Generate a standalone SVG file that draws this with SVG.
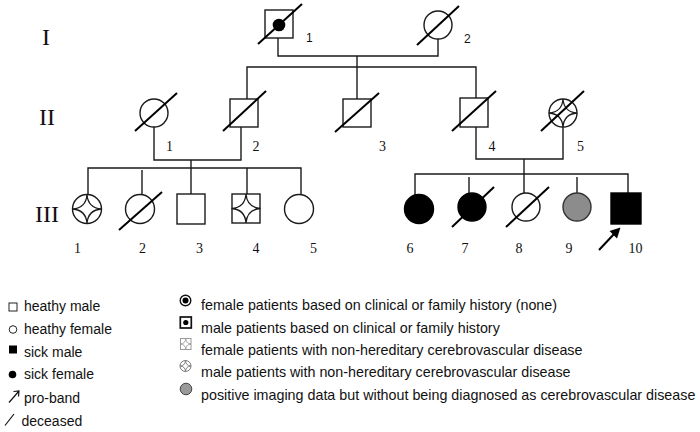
<svg xmlns="http://www.w3.org/2000/svg" xmlns:xlink="http://www.w3.org/1999/xlink" width="700" height="432" viewBox="0 0 700 432">
<style>
  .ln{stroke:#1a1a1a;stroke-width:1.4;fill:none}
  .sym{stroke:#1a1a1a;stroke-width:1.4;fill:#fff}
  .fill{fill:#000;stroke:#000;stroke-width:1.4}
  .gray{fill:#8c8c8c;stroke:#333;stroke-width:1.4}
  .slash{stroke:#000;stroke-width:2;fill:none}
  .star{stroke:#1a1a1a;stroke-width:1.3;fill:none}
  .rom{font-family:"Liberation Serif",serif;font-size:24px;fill:#111;text-anchor:middle}
  .num{font-family:"Liberation Serif",serif;font-size:14px;fill:#111;text-anchor:middle}
  .numS{font-family:"Liberation Sans",Arial,sans-serif;font-size:12px;fill:#111}
  .leg{font-family:"Liberation Sans",Arial,sans-serif;font-size:14px;fill:#111}
  .legR{font-family:"Liberation Sans",Arial,sans-serif;font-size:14.3px;fill:#111}
</style>
<defs>
  <path id="star" d="M0,-14.5 Q1,-1 14.5,0 Q1,1 0,14.5 Q-1,1 -14.5,0 Q-1,-1 0,-14.5Z"/>
  <path id="starS" d="M0,-5.3 Q0.4,-0.4 5.3,0 Q0.4,0.4 0,5.3 Q-0.4,0.4 -5.3,0 Q-0.4,-0.4 0,-5.3Z"/>
</defs>
<rect width="700" height="432" fill="#fff"/>

<g id="generation-labels">
  <text class="rom" x="46" y="45">I</text>
  <text class="rom" x="47" y="125">II</text>
  <text class="rom" x="47" y="222">III</text>
</g>

<g id="connectors">
  <path class="ln" d="M278,38 V56 H438 V39"/>
  <path class="ln" d="M357,56 V67"/>
  <path class="ln" d="M247,99 V67 H476 V98"/>
  <path class="ln" d="M357,67 V99"/>
  <path class="ln" d="M154,127 V160 H241 V127"/>
  <path class="ln" d="M191,160 V168"/>
  <path class="ln" d="M88,194 V168 H301 V195"/>
  <path class="ln" d="M142,170 V195"/>
  <path class="ln" d="M191,168 V194"/>
  <path class="ln" d="M247,168 V194"/>
  <path class="ln" d="M476,127 V159 H563 V127"/>
  <path class="ln" d="M524,159 V193"/>
  <path class="ln" d="M415,195 V174 H628 V193"/>
  <path class="ln" d="M469,177 V193"/>
  <path class="ln" d="M577,177 V193"/>
</g>

<g id="I-1">
  <rect class="sym" x="265" y="10" width="28" height="28"/>
  <circle cx="279" cy="25" r="6.3" fill="#000"/>
  <line class="slash" x1="258" y1="44" x2="302" y2="4"/>
  <text class="numS" x="306" y="42">1</text>
</g>
<g id="I-2">
  <circle class="sym" cx="438" cy="25" r="14"/>
  <line class="slash" x1="417" y1="45" x2="459" y2="6"/>
  <text class="numS" x="464" y="43">2</text>
</g>

<g id="II-1">
  <circle class="sym" cx="154" cy="113" r="14"/>
  <line class="slash" x1="135" y1="131" x2="177" y2="93"/>
  <text class="num" x="169.5" y="151">1</text>
</g>
<g id="II-2">
  <rect class="sym" x="230" y="99" width="28" height="28"/>
  <line class="slash" x1="223" y1="131" x2="266" y2="91"/>
  <text class="num" x="256" y="151">2</text>
</g>
<g id="II-3">
  <rect class="sym" x="343" y="99" width="28" height="28"/>
  <line class="slash" x1="335" y1="132" x2="379" y2="93"/>
  <text class="num" x="382.5" y="151">3</text>
</g>
<g id="II-4">
  <rect class="sym" x="460" y="98" width="28" height="29"/>
  <line class="slash" x1="452" y1="131" x2="496" y2="91"/>
  <text class="num" x="492" y="151">4</text>
</g>
<g id="II-5">
  <circle class="sym" cx="563" cy="113" r="14"/>
  <use href="#star" xlink:href="#star" class="star" transform="translate(563,113) scale(0.97)"/>
  <line class="slash" x1="541" y1="131" x2="584" y2="91"/>
  <text class="num" x="580.5" y="151">5</text>
</g>

<g id="III-1">
  <circle class="sym" cx="87" cy="209" r="14.5"/>
  <use href="#star" xlink:href="#star" class="star" transform="translate(87,209)"/>
  <text class="num" x="77.5" y="252.5">1</text>
</g>
<g id="III-2">
  <circle class="sym" cx="140" cy="209" r="14.5"/>
  <line class="slash" x1="119" y1="230" x2="162" y2="192"/>
  <text class="num" x="142.5" y="252.5">2</text>
</g>
<g id="III-3">
  <rect class="sym" x="177" y="194" width="28" height="30"/>
  <text class="num" x="199.5" y="252.5">3</text>
</g>
<g id="III-4">
  <rect class="sym" x="232" y="194" width="28" height="29"/>
  <use href="#star" xlink:href="#star" class="star" transform="translate(246,208.5)"/>
  <text class="num" x="256" y="252.5">4</text>
</g>
<g id="III-5">
  <circle class="sym" cx="299" cy="209" r="14.5"/>
  <text class="num" x="313.5" y="252.5">5</text>
</g>

<g id="III-6">
  <circle class="fill" cx="419" cy="209" r="14.5"/>
  <text class="num" x="410" y="252.5">6</text>
</g>
<g id="III-7">
  <circle class="fill" cx="472" cy="207" r="14"/>
  <line class="slash" x1="452" y1="227" x2="494" y2="187"/>
  <text class="num" x="465" y="252.5">7</text>
</g>
<g id="III-8">
  <circle class="sym" cx="526" cy="207" r="14"/>
  <line class="slash" x1="506" y1="227" x2="549" y2="187"/>
  <text class="num" x="519" y="252.5">8</text>
</g>
<g id="III-9">
  <circle class="gray" cx="577" cy="207" r="14"/>
  <text class="num" x="569" y="252.5">9</text>
</g>
<g id="III-10">
  <rect class="fill" x="611" y="193" width="30" height="31"/>
  <line x1="599" y1="250" x2="614" y2="234" stroke="#000" stroke-width="2"/>
  <polygon points="620.5,227.5 609.5,231 617,238.5" fill="#000"/>
  <text class="num" x="635.5" y="252.5">10</text>
</g>

<g id="legend-left">
  <rect x="9" y="303" width="8" height="8" fill="#fff" stroke="#222" stroke-width="1"/>
  <text class="leg" x="24" y="311">heathy male</text>
  <circle cx="13" cy="329.5" r="3.8" fill="#fff" stroke="#222" stroke-width="1"/>
  <text class="leg" x="24" y="334">heathy female</text>
  <rect x="9" y="345.5" width="8" height="8" fill="#000"/>
  <text class="leg" x="24" y="357">sick male</text>
  <circle cx="12.5" cy="374.5" r="3.8" fill="#000"/>
  <text class="leg" x="24" y="379">sick female</text>
  <path d="M9,402.5 L19,391 M13.5,391.5 L19,391 L18.5,396.5" fill="none" stroke="#111" stroke-width="1.2"/>
  <text class="leg" x="24" y="403">pro-band</text>
  <line x1="5" y1="425.5" x2="14" y2="414" stroke="#111" stroke-width="1.2"/>
  <text class="leg" x="21.5" y="425.5">deceased</text>
</g>

<g id="legend-right">
  <circle cx="185.5" cy="300.5" r="5.3" fill="#fff" stroke="#111" stroke-width="1.4"/>
  <circle cx="185.5" cy="300.5" r="3" fill="#000"/>
  <text class="legR" x="201" y="310">female patients based on clinical or family history (none)</text>
  <rect x="180.3" y="317" width="11" height="11" fill="#fff" stroke="#111" stroke-width="1.7"/>
  <circle cx="185.8" cy="322.5" r="2.6" fill="#000"/>
  <text class="legR" x="201" y="333">male patients based on clinical or family history</text>
  <rect x="180.5" y="338.5" width="10.5" height="11" fill="#fff" stroke="#999" stroke-width="1"/>
  <use href="#starS" xlink:href="#starS" transform="translate(185.75,344)" fill="none" stroke="#999" stroke-width="0.9"/>
  <text class="legR" x="201" y="355">female patients with non-hereditary cerebrovascular disease</text>
  <circle cx="185.5" cy="366" r="5.5" fill="#fff" stroke="#777" stroke-width="1"/>
  <use href="#starS" xlink:href="#starS" transform="translate(185.5,366)" fill="none" stroke="#777" stroke-width="0.9"/>
  <text class="legR" x="201" y="377">male patients with non-hereditary cerebrovascular disease</text>
  <circle cx="186" cy="389" r="5.8" fill="#999" stroke="#444" stroke-width="1"/>
  <text class="legR" x="201" y="400">positive imaging data but without being diagnosed as cerebrovascular disease</text>
</g>
</svg>
